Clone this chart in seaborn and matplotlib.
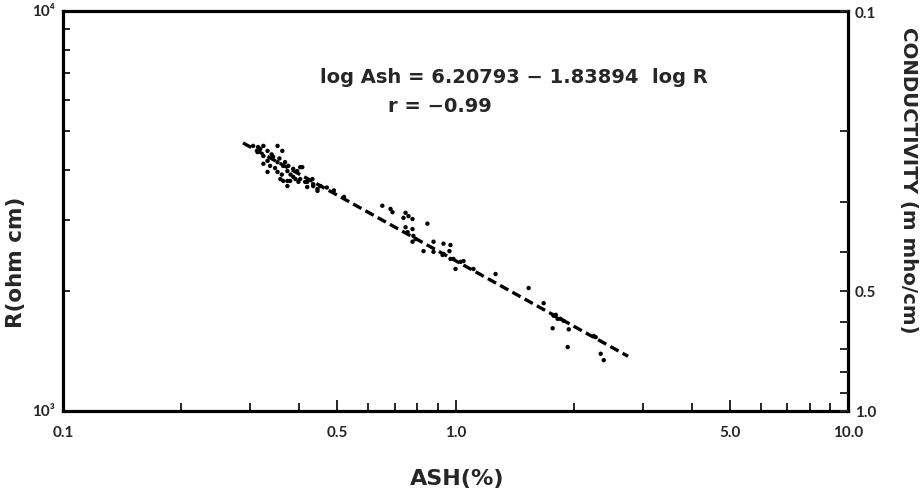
import matplotlib
matplotlib.use("Agg")
import numpy as np
import pandas as pd
import matplotlib.pyplot as plt
import seaborn as sns
from matplotlib.ticker import FixedLocator, FixedFormatter, NullFormatter

# Measured samples: ash content (%) and resistivity R (ohm cm)
ash_pct = [
    0.305, 0.314, 0.324, 0.332, 0.352, 0.362, 0.313, 0.324, 0.332, 0.343,
    0.324, 0.337, 0.352, 0.364, 0.332, 0.352, 0.373, 0.386, 0.402, 0.358,
    0.373, 0.386, 0.402, 0.419, 0.434, 0.373, 0.445, 0.368, 0.375, 0.395,
    0.407, 0.364, 0.379, 0.391, 0.398, 0.414, 0.419, 0.432, 0.434, 0.445,
    0.453, 0.470, 0.490, 0.520, 0.318, 0.340, 0.356, 0.347, 0.361, 0.380,
    0.651, 0.683, 0.691, 0.746, 0.759, 0.777, 0.737, 0.848, 0.746, 0.777,
    0.755, 0.781, 0.791, 0.777, 0.879, 0.932, 0.971, 0.829, 0.879, 0.932,
    0.971, 1.030, 0.965, 0.927, 0.988, 1.048, 1.000, 1.111, 1.265, 1.536,
    1.677, 1.778, 1.820, 1.886, 1.768, 1.943, 2.276, 2.250, 1.931, 2.344,
    2.386, 1.800, 1.850,
]
resistivity = [
    4600, 4570, 4600, 4470, 4600, 4470, 4440, 4340, 4220, 4320,
    4150, 4100, 4190, 4100, 3960, 3960, 3980, 4030, 4070, 3800,
    3760, 3850, 3800, 3740, 3650, 3650, 3550, 4190, 4100, 3980,
    4070, 3760, 3760, 3800, 3740, 3740, 3630, 3800, 3690, 3590,
    3650, 3620, 3560, 3430, 4520, 4380, 4280, 4050, 3900, 3900,
    3260, 3200, 3140, 3130, 3070, 3020, 3040, 2940, 2880, 2850,
    2800, 2740, 2690, 2650, 2650, 2620, 2600, 2510, 2500, 2470,
    2400, 2360, 2510, 2455, 2400, 2370, 2265, 2265, 2200, 2030,
    1860, 1730, 1700, 1680, 1610, 1600, 1530, 1540, 1445, 1390,
    1340, 1740, 1700,
]

# Fitted relation: log Ash = a + b log R
fit_a = 6.20793
fit_b = -1.83894
fit_r = -0.99
fit_r_ends = [4680, 1370]

x_major = [0.1, 0.5, 1.0, 5.0, 10.0]
x_major_labels = ["0.1", "0.5", "1.0", "5.0", "10.0"]
x_minor = [0.2, 0.3, 0.4, 0.6, 0.7, 0.8, 0.9, 2, 3, 4, 6, 7, 8, 9]
y_major = [1e3, 1e4]
y_major_labels = ["10³", "10⁴"]
y_minor = [2000, 3000, 4000, 5000, 6000, 7000, 8000, 9000]
cond_major = [0.1, 0.5, 1.0]
cond_major_labels = ["0.1", "0.5", "1.0"]
cond_minor = [0.2, 0.3, 0.4, 0.6, 0.7, 0.8, 0.9]

sns.set_style("ticks")
plt.rcParams["font.family"] = ["DejaVu Sans"]

W, H = 922, 489
fig = plt.figure(figsize=(W / 100, H / 100), dpi=100)
ax = fig.add_axes([63 / W, 77 / H, 785 / W, 400 / H])

pts = pd.DataFrame({"ash": ash_pct, "R": resistivity})
fit_R = np.array(fit_r_ends, dtype=float)
fit = pd.DataFrame({"R": fit_R, "ash": 10 ** (fit_a + fit_b * np.log10(fit_R))})

sns.lineplot(data=fit, x="ash", y="R", ax=ax, color="black", linewidth=2.4,
             linestyle=(0, (2.8, 1.4)), sort=False, estimator=None)
sns.scatterplot(data=pts, x="ash", y="R", ax=ax, color="black", s=10,
                linewidth=0, edgecolor="none")

ax.set_xscale("log")
ax.set_yscale("log")
ax.set_xlim(0.1, 10)
ax.set_ylim(1e3, 1e4)
ax.set_xlabel("")
ax.set_ylabel("")

tick_font = dict(family=["Lato", "DejaVu Sans"], weight="bold", size=11)

ax.xaxis.set_major_locator(FixedLocator(x_major))
ax.xaxis.set_major_formatter(FixedFormatter(x_major_labels))
ax.xaxis.set_minor_locator(FixedLocator(x_minor))
ax.xaxis.set_minor_formatter(NullFormatter())
ax.yaxis.set_major_locator(FixedLocator(y_major))
ax.yaxis.set_major_formatter(FixedFormatter(y_major_labels))
ax.yaxis.set_minor_locator(FixedLocator(y_minor))
ax.yaxis.set_minor_formatter(NullFormatter())

ax.tick_params(axis="x", which="major", direction="in", length=8, width=1.4,
               pad=10, top=False, bottom=True)
ax.tick_params(axis="x", which="minor", direction="in", length=6, width=1.4,
               top=False, bottom=True)
ax.tick_params(axis="y", which="major", direction="in", length=0, width=1.4,
               pad=6, left=True, right=False)
ax.tick_params(axis="y", which="minor", direction="in", length=5, width=1.4,
               left=True, right=False)
for lab in ax.get_xticklabels() + ax.get_yticklabels():
    lab.set_fontproperties(tick_font)
for lab in ax.get_yticklabels():
    lab.set_verticalalignment("center")

for sp in ax.spines.values():
    sp.set_linewidth(2.3)
    sp.set_color("black")

# Conductivity scale on the right: 1000 / R in m mho/cm
ax2 = ax.twinx()
ax2.set_yscale("log")
ax2.set_ylim(1.0, 0.1)
ax2.yaxis.set_major_locator(FixedLocator(cond_major))
ax2.yaxis.set_major_formatter(FixedFormatter(cond_major_labels))
ax2.yaxis.set_minor_locator(FixedLocator(cond_minor))
ax2.yaxis.set_minor_formatter(NullFormatter())
ax2.tick_params(axis="y", which="both", direction="in", length=6, width=1.4,
                pad=5, right=True, left=False)
for lab in ax2.get_yticklabels():
    lab.set_fontproperties(tick_font)
for sp in ax2.spines.values():
    sp.set_visible(False)


def fx(x):
    return x / W


def fy(y):
    return 1 - y / H


label_font = dict(family="DejaVu Sans", weight="bold")

fig.text(fx(457), fy(485), "ASH(%)", ha="center", va="baseline",
         fontsize=16, **label_font)
fig.text(fx(16), fy(262), "R(ohm cm)", ha="center", va="center",
         rotation=90, fontsize=15.5, **label_font)
fig.text(fx(908), fy(180), "CONDUCTIVITY (m mho/cm)", ha="center",
         va="center", rotation=-90, fontsize=14.2, **label_font)

eq_line = f"log Ash = {fit_a:.5f} \u2212 {abs(fit_b):.5f}  log R"
r_line = f"r = \u2212{abs(fit_r):.2f}"
fig.text(fx(320), fy(83), eq_line, ha="left", va="baseline", fontsize=14,
         **label_font)
fig.text(fx(388), fy(112), r_line, ha="left", va="baseline", fontsize=14,
         **label_font)

fig.savefig("out.png", dpi=100)
